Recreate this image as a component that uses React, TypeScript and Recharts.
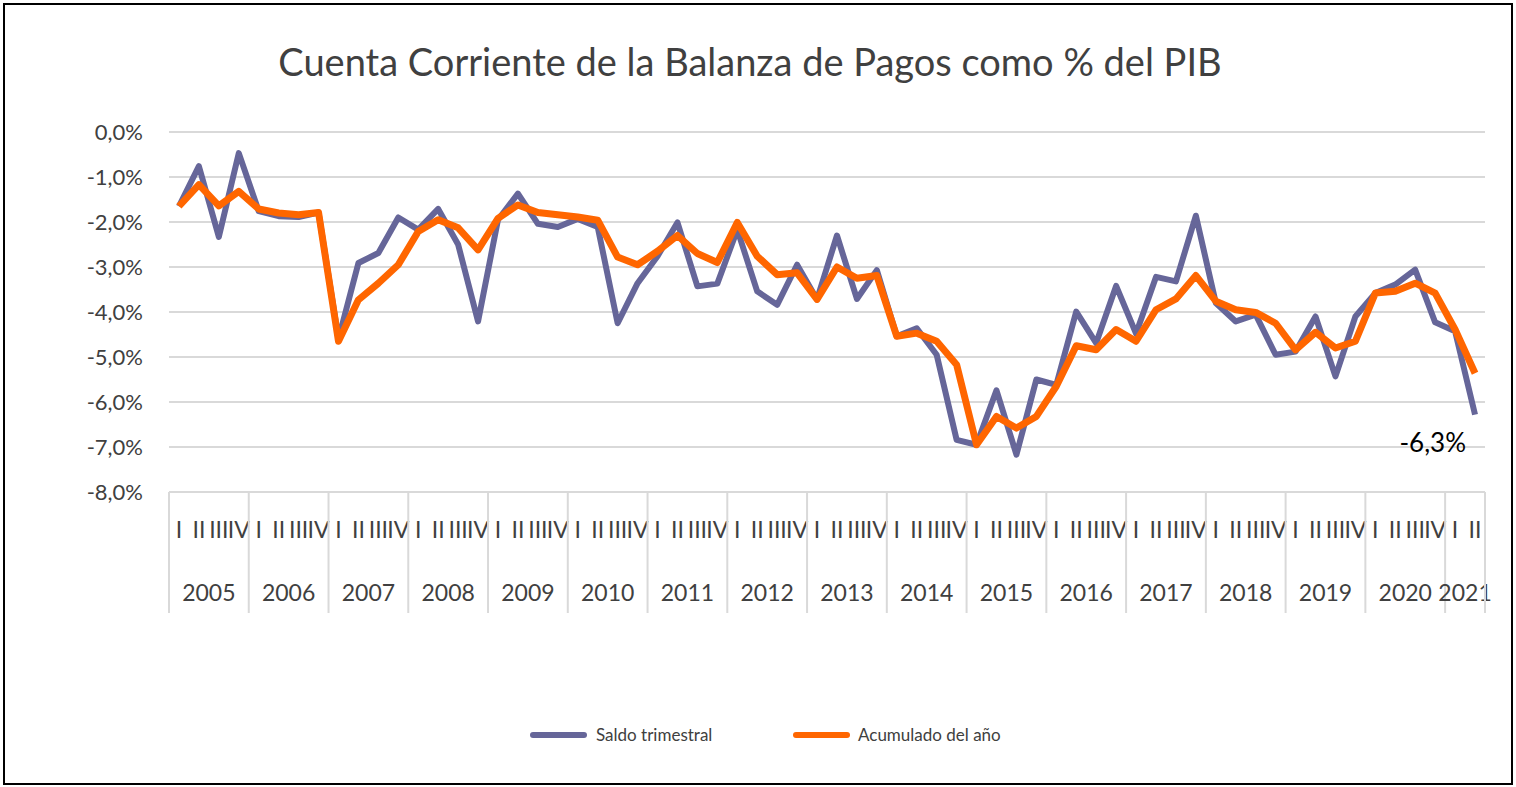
import { LineChart, Line, XAxis, YAxis, CartesianGrid, Legend } from 'recharts';

const years = ['2005', '2006', '2007', '2008', '2009', '2010', '2011', '2012', '2013', '2014', '2015', '2016', '2017', '2018', '2019', '2020', '2021'];
const quarters = ['I', 'II', 'III', 'IV'];

// Saldo trimestral (% del PIB)
const saldo = [
  -1.65, -0.76, -2.33, -0.47,
  -1.76, -1.87, -1.89, -1.79,
  -4.6, -2.91, -2.69, -1.9,
  -2.17, -1.71, -2.5, -4.21,
  -1.95, -1.37, -2.04, -2.11,
  -1.93, -2.11, -4.25, -3.36,
  -2.76, -2.01, -3.43, -3.37,
  -2.17, -3.54, -3.84, -2.95,
  -3.72, -2.3, -3.71, -3.07,
  -4.54, -4.36, -4.95, -6.84,
  -6.95, -5.74, -7.17, -5.5,
  -5.62, -3.99, -4.69, -3.42,
  -4.48, -3.22, -3.32, -1.86,
  -3.8, -4.21, -4.06, -4.95,
  -4.88, -4.1, -5.43, -4.1,
  -3.58, -3.39, -3.06, -4.23,
  -4.43, -6.28,
];

// Acumulado del año (% del PIB)
const acumulado = [
  -1.65, -1.17, -1.64, -1.32,
  -1.71, -1.8, -1.84, -1.79,
  -4.65, -3.73, -3.36, -2.95,
  -2.21, -1.95, -2.13, -2.62,
  -1.92, -1.62, -1.79, -1.84,
  -1.89, -1.96, -2.78, -2.95,
  -2.65, -2.3, -2.7, -2.9,
  -2.01, -2.76, -3.17, -3.13,
  -3.72, -3.0, -3.25, -3.19,
  -4.54, -4.47, -4.65, -5.17,
  -6.95, -6.32, -6.58, -6.32,
  -5.65, -4.75, -4.84, -4.39,
  -4.65, -3.95, -3.71, -3.19,
  -3.76, -3.95, -4.01, -4.25,
  -4.84, -4.45, -4.8, -4.65,
  -3.58, -3.54, -3.36, -3.58,
  -4.39, -5.36,
];

const yTicks = [0, -1, -2, -3, -4, -5, -6, -7, -8];

const data = saldo.map((v, i) => ({
  name: years[Math.floor(i / 4)] + ' ' + quarters[i % 4],
  q: quarters[i % 4],
  saldo: v,
  acumulado: acumulado[i],
}));

const W = 1516;
const H = 787;
const PLOT_LEFT = 169;
const PLOT_RIGHT = 1485;
const PLOT_TOP = 132;
const PLOT_BOTTOM = 492;
const X_AXIS_H = 125;
const BAND = (PLOT_RIGHT - PLOT_LEFT) / data.length;
const FONT = 'Lato, "Open Sans", sans-serif';
const TEXT = '#404040';

const pct = (v: number) => `${v.toFixed(1).replace('.', ',')}%`;

function QuarterTick(props: any) {
  const { x, y, payload } = props;
  const i = payload.index;
  const yearIdx = Math.floor(i / 4);
  const inYear = Math.min(4, data.length - yearIdx * 4);
  return (
    <g>
      <text x={x} y={y + 46} textAnchor="middle" fontSize={23} fill={TEXT} fontFamily={FONT}>
        {data[i].q}
      </text>
      {i % 4 === 0 && (
        <>
          <line x1={x - BAND / 2} x2={x - BAND / 2} y1={y} y2={y + 121} stroke="#d9d9d9" strokeWidth={2} />
          <text x={x + (BAND * (inYear - 1)) / 2} y={y + 109} textAnchor="middle" fontSize={23} fill={TEXT} fontFamily={FONT}>
            {years[yearIdx]}
          </text>
        </>
      )}
      {i === data.length - 1 && (
        <line x1={x + BAND / 2} x2={x + BAND / 2} y1={y} y2={y + 121} stroke="#d9d9d9" strokeWidth={2} />
      )}
    </g>
  );
}

function LastLabel(props: any) {
  const { x, y, index, value } = props;
  if (index !== saldo.length - 1) return <g />;
  return (
    <text x={x - 9} y={y + 37} textAnchor="end" fontSize={26} fill="#000" fontFamily={FONT}>
      {pct(value)}
    </text>
  );
}

function LegendContent() {
  return (
    <svg width={W} height={30}>
      <line x1={533} x2={584} y1={14} y2={14} stroke="#666699" strokeWidth={6} strokeLinecap="round" />
      <text x={596} y={20} fontSize={17} fill={TEXT} fontFamily={FONT}>Saldo trimestral</text>
      <line x1={796} x2={847} y1={14} y2={14} stroke="#FF6600" strokeWidth={6} strokeLinecap="round" />
      <text x={858} y={20} fontSize={17} fill={TEXT} fontFamily={FONT}>Acumulado del año</text>
    </svg>
  );
}

export default function App() {
  return (
    <div style={{ position: 'absolute', left: 0, top: 0, width: W, height: H, background: '#fff', fontFamily: FONT }}>
      <div
        style={{
          position: 'absolute',
          left: 3,
          top: 3,
          width: W - 6,
          height: H - 5,
          border: '2px solid #000',
          boxSizing: 'border-box',
        }}
      />
      <svg style={{ position: 'absolute', left: 0, top: 0 }} width={W} height={100}>
        <text x={750} y={76} textAnchor="middle" fontSize={38} fill={TEXT} fontFamily={FONT}>
          Cuenta Corriente de la Balanza de Pagos como % del PIB
        </text>
      </svg>
      <div style={{ position: 'absolute', left: 0, top: 0 }}>
        <LineChart
          width={W}
          height={H}
          data={data}
          margin={{ top: PLOT_TOP, right: W - PLOT_RIGHT, left: 0, bottom: H - PLOT_BOTTOM - X_AXIS_H }}
        >
          <CartesianGrid horizontal vertical={false} stroke="#d9d9d9" strokeWidth={2} />
          <XAxis
            dataKey="name"
            height={X_AXIS_H}
            interval={0}
            padding={{ left: BAND / 2, right: BAND / 2 }}
            tick={<QuarterTick />}
            tickLine={false}
            tickSize={0}
            tickMargin={0}
            axisLine={{ stroke: '#d9d9d9', strokeWidth: 2 }}
          />
          <YAxis
            width={PLOT_LEFT}
            domain={[-8, 0]}
            ticks={yTicks}
            tickFormatter={pct}
            tickLine={false}
            axisLine={false}
            tickSize={0}
            tickMargin={26}
            tick={{ fontSize: 22, fill: TEXT, fontFamily: FONT }}
          />
          <Legend
            verticalAlign="middle"
            layout="horizontal"
            content={<LegendContent />}
            wrapperStyle={{ top: 721, left: 0, width: W, height: 30 }}
          />
          <Line
            type="linear"
            dataKey="saldo"
            name="Saldo trimestral"
            stroke="#666699"
            strokeWidth={6}
            strokeLinejoin="round"
            dot={false}
            isAnimationActive={false}
            label={<LastLabel />}
          />
          <Line
            type="linear"
            dataKey="acumulado"
            name="Acumulado del año"
            stroke="#FF6600"
            strokeWidth={7}
            strokeLinejoin="round"
            dot={false}
            isAnimationActive={false}
          />
        </LineChart>
      </div>
    </div>
  );
}
